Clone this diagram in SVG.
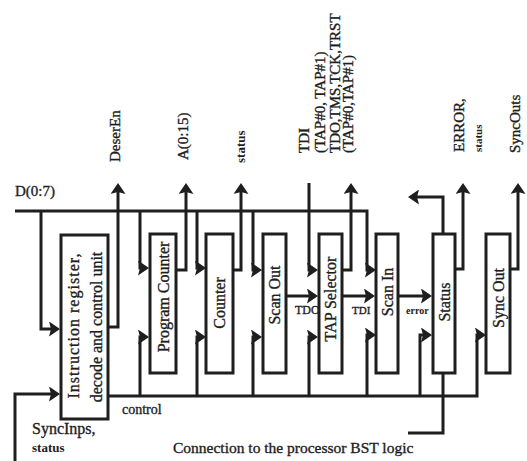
<svg xmlns="http://www.w3.org/2000/svg" width="527" height="461" viewBox="0 0 527 461">
<style>
.w{fill:none;stroke:#1e1e1e;stroke-width:3;stroke-linejoin:miter}
.a{marker-end:url(#ah)}
.box{fill:#fff;stroke:#1e1e1e;stroke-width:3}
text{font-family:"Liberation Serif","Times New Roman",serif;fill:#1e1e1e;stroke:#1e1e1e;stroke-width:0.35}
.h{font-size:15px}
.b{font-size:16px}
.c{text-anchor:middle;dominant-baseline:central}
.s{font-weight:bold;stroke-width:0}
</style>
<defs>
<marker id="ah" viewBox="0 0 11 15" refX="3" refY="7.5" markerWidth="11" markerHeight="15" orient="auto" markerUnits="userSpaceOnUse">
<path d="M0,0 L11,7.5 L0,15 L2,7.5 z" fill="#1e1e1e"/>
</marker>
</defs>
<rect width="527" height="461" fill="#fff"/>
<g id="connectors">
<path class="w a" d="M15,211 H367 V270 H368"/>
<path class="w a" d="M41,211 V329 H52"/>
<path class="w a" d="M140,211 V268 H141"/>
<path class="w a" d="M197,211 V268 H198"/>
<path class="w a" d="M253,211 V270 H254"/>
<path class="w a" d="M309,183 V270 H310"/>
<path class="w a" d="M108,327 H118 V191"/>
<path class="w a" d="M176,270 H186 V191"/>
<path class="w a" d="M233,270 H241 V191"/>
<path class="w a" d="M342,270 H351 V191"/>
<path class="w a" d="M455,269 H463 V191"/>
<path class="w a" d="M510,269 H518 V191"/>
<path class="w a" d="M443,234 V197 H416"/>
<path class="w a" d="M286,296 H310"/>
<path class="w a" d="M342,296 H367"/>
<path class="w a" d="M398,296 H424"/>
<path class="w a" d="M108,396 H477 V335 H478"/>
<path class="w a" d="M140,396 V337 H141"/>
<path class="w a" d="M197,396 V337 H198"/>
<path class="w a" d="M253,396 V337 H254"/>
<path class="w a" d="M309,396 V337 H310"/>
<path class="w a" d="M367,396 V335 H368"/>
<path class="w a" d="M420,396 V335 H424"/>
<path class="w a" d="M15,461 V394 H52"/>
<path class="w" d="M443,373 V433 H408"/>
</g>
<g id="signal-labels">
<text class="h" x="15" y="196">D(0:7)</text>
<text class="h" transform="translate(120,162) rotate(-90)" font-size="16">DeserEn</text>
<text class="h" transform="translate(188,160) rotate(-90)">A(0:15)</text>
<text class="s" font-size="13" transform="translate(245,163) rotate(-90)">status</text>
<text class="h" transform="translate(309,153) rotate(-90)">TDI</text>
<text class="h" transform="translate(325,153) rotate(-90)">(TAP#0, TAP#1)</text>
<text class="h" transform="translate(340,153) rotate(-90)">TDO,TMS,TCK,TRST</text>
<text class="h" transform="translate(353,153) rotate(-90)">(TAP#0,TAP#1)</text>
<text class="h" transform="translate(464,152) rotate(-90)">ERROR,</text>
<text class="s" font-size="11" transform="translate(482,152) rotate(-90)">status</text>
<text class="h" transform="translate(520,153) rotate(-90)">SyncOuts</text>
<text font-size="12" x="295" y="314">TDO</text>
<text font-size="11" x="352" y="314">TDI</text>
<text class="s" font-size="10" x="406" y="314">error</text>
<text font-size="14" x="122" y="414">control</text>
<text font-size="16" x="32" y="434">SyncInps,</text>
<text class="s" font-size="13" x="32" y="452">status</text>
<text font-size="15.5" x="173" y="453">Connection to the processor BST logic</text>
</g>
<g id="ir">
<rect class="box" x="61" y="235" width="47" height="184"/>
<text class="b c" transform="translate(73.5,326) rotate(-90)" textLength="145" lengthAdjust="spacing">Instruction register,</text>
<text class="b c" transform="translate(96,327) rotate(-90)">decode and control unit</text>
</g>
<g id="pc">
<rect class="box" x="150" y="234" width="26" height="139"/>
<text class="b c" transform="translate(163,297) rotate(-90)">Program Counter</text>
</g>
<g id="counter">
<rect class="box" x="206" y="234" width="27" height="139"/>
<text class="b c" transform="translate(219.5,303) rotate(-90)">Counter</text>
</g>
<g id="scanout">
<rect class="box" x="263" y="234" width="23" height="139"/>
<text class="b c" transform="translate(274.5,295) rotate(-90)">Scan Out</text>
</g>
<g id="tapsel">
<rect class="box" x="319" y="234" width="23" height="139"/>
<text class="b c" transform="translate(330.5,299) rotate(-90)">TAP Selector</text>
</g>
<g id="scanin">
<rect class="box" x="376" y="234" width="22" height="139"/>
<text class="b c" transform="translate(387,292) rotate(-90)">Scan In</text>
</g>
<g id="status">
<rect class="box" x="433" y="234" width="22" height="139"/>
<text class="b c" transform="translate(444,302) rotate(-90)">Status</text>
</g>
<g id="syncout">
<rect class="box" x="486" y="234" width="24" height="139"/>
<text class="b c" transform="translate(498,298) rotate(-90)">Sync Out</text>
</g>
</svg>
